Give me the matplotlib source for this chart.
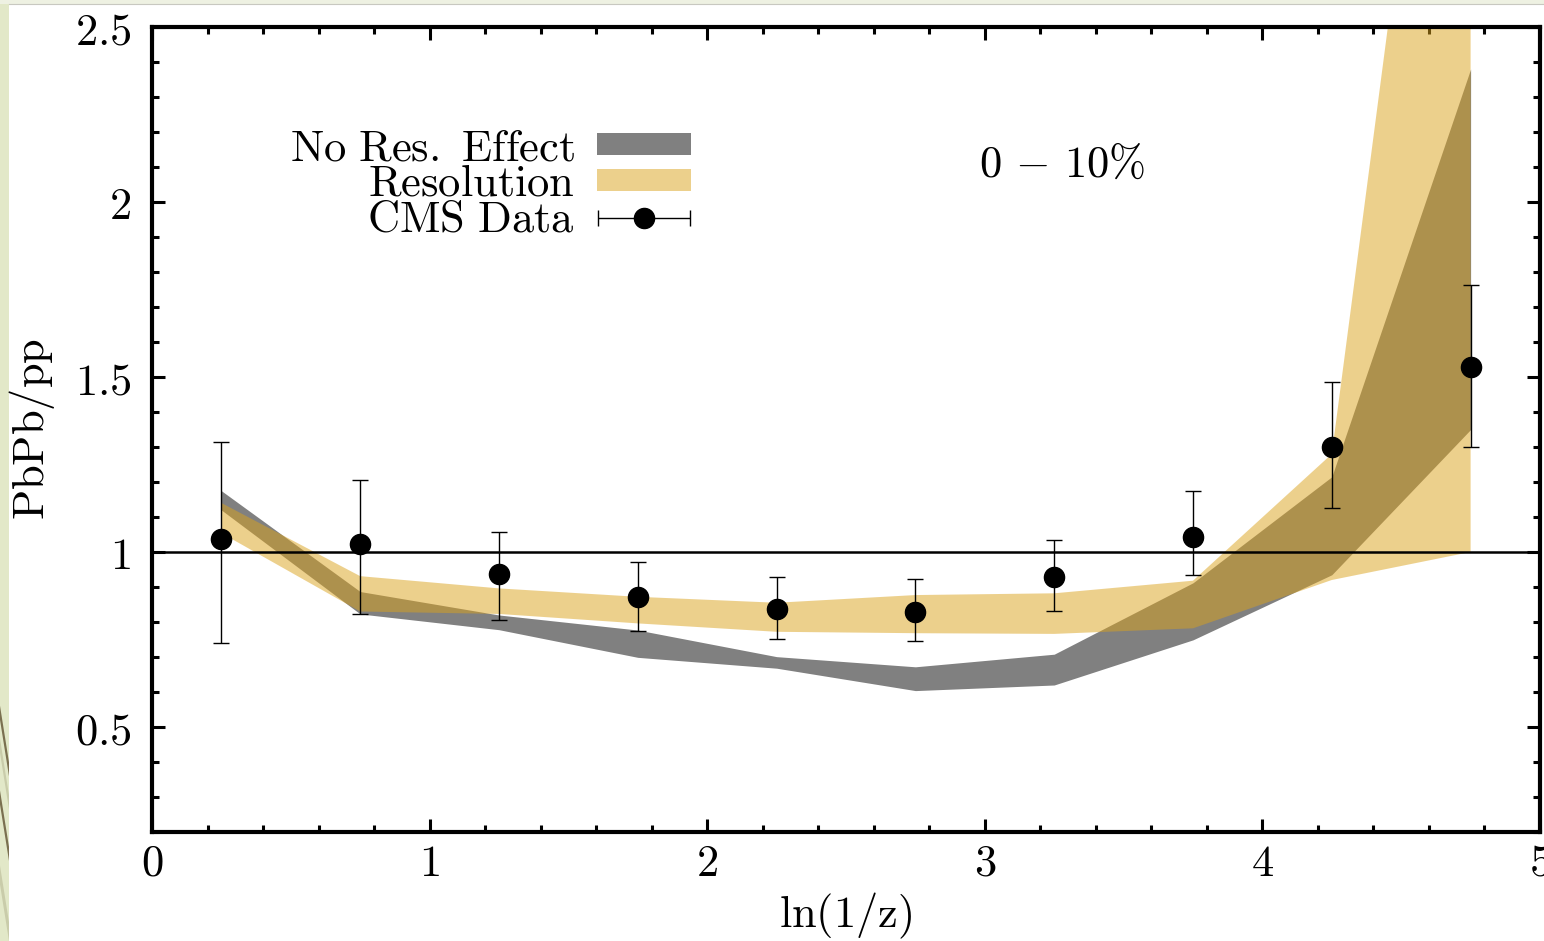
import numpy as np
import matplotlib
matplotlib.use("Agg")
from matplotlib import pyplot as plt
from matplotlib.patches import Patch, Rectangle, Polygon
from matplotlib.legend_handler import HandlerErrorbar
from matplotlib.ticker import MultipleLocator, FixedLocator, FixedFormatter

plt.rcParams['mathtext.fontset'] = 'cm'
plt.rcParams['font.family'] = ['DejaVu Serif']

# ln(1/z) bin centres
X_BINS = [0.25, 0.75, 1.25, 1.75, 2.25, 2.75, 3.25, 3.75, 4.25, 4.75]

# CMS PbPb/pp ratio, 0-10% centrality
CMS_Y = [1.037, 1.022, 0.937, 0.872, 0.836, 0.828, 0.930, 1.044, 1.301, 1.529]
CMS_ERR_LO = [0.297, 0.200, 0.131, 0.098, 0.085, 0.082, 0.099, 0.110, 0.174, 0.228]
CMS_ERR_HI = [0.277, 0.184, 0.121, 0.100, 0.094, 0.095, 0.104, 0.130, 0.185, 0.234]

# model band without resolution smearing
NORES_LO = [1.120, 0.823, 0.778, 0.699, 0.668, 0.604, 0.620, 0.749, 0.935, 1.350]
NORES_HI = [1.175, 0.887, 0.820, 0.777, 0.701, 0.672, 0.708, 0.912, 1.215, 2.380]

# model band with jet energy resolution
RES_LO = [1.054, 0.830, 0.823, 0.796, 0.772, 0.768, 0.766, 0.782, 0.920, 1.000]
RES_HI = [1.140, 0.931, 0.896, 0.872, 0.855, 0.877, 0.882, 0.918, 1.280, 4.300]

X_TICKS = [0, 1, 2, 3, 4, 5]
Y_TICKS = [0.5, 1.0, 1.5, 2.0, 2.5]
Y_TICK_LABELS = ['0.5', '1', '1.5', '2', '2.5']

GRAY = '#808080'
GOLD = '#dba21b'
FS = 32


def draw_slide_edge(fig):
    # pale strip of the slide template on the left and top
    fig.patches.append(Rectangle((0, 0), 9 / 1544, 1, transform=fig.transFigure,
                                 facecolor='#e2e8c8', edgecolor='none', zorder=-5))
    fig.patches.append(Rectangle((0, 1 - 4 / 941), 1, 4 / 941, transform=fig.transFigure,
                                 facecolor='#eef1e2', edgecolor='none', zorder=-5))
    fig.lines.append(plt.Line2D([9 / 1544, 1], [1 - 4 / 941, 1 - 4 / 941], transform=fig.transFigure,
                                color='#c8c8c0', lw=0.8))
    w = 9 / 1544
    strokes = [((0, 0.25), (0, 0.235), (w, 0.175), (w, 0.19), '#7a7050'),
               ((0, 0.16), (0, 0.145), (w, 0.085), (w, 0.10), '#7a7050'),
               ((0, 0.215), (0, 0.20), (w, 0.14), (w, 0.155), '#c9ccaa'),
               ((0, 0.08), (0, 0.06), (w, 0.0), (w, 0.02), '#c9ccaa')]
    for a, b, c, d, col in strokes:
        fig.patches.append(Polygon([a, b, c, d], closed=True, transform=fig.transFigure,
                                   facecolor=col, edgecolor='none', zorder=-4))


def main():
    fig = plt.figure(figsize=(15.44, 9.41), dpi=100)
    draw_slide_edge(fig)
    ax = fig.add_axes([152 / 1544, 1 - 832 / 941, 1388 / 1544, 805 / 941])

    ax.fill_between(X_BINS, NORES_LO, NORES_HI, color=GRAY, lw=0, zorder=1)
    ax.fill_between(X_BINS, RES_LO, RES_HI, color=GOLD, alpha=0.5, lw=0, zorder=2)

    ax.axhline(1.0, color='k', lw=1.8, zorder=3)

    ax.errorbar(X_BINS, CMS_Y, yerr=[CMS_ERR_LO, CMS_ERR_HI], fmt='o', color='k',
                ms=14.5, elinewidth=1.0, capsize=5.5, capthick=1.0, zorder=4)

    cms_proxy = ax.errorbar([np.nan], [np.nan], xerr=[0.0], fmt='o', color='k',
                            ms=14.5, elinewidth=1.0, capsize=5.5, capthick=1.0)

    handles = [Patch(facecolor=GRAY, edgecolor='none'),
               Patch(facecolor=GOLD, alpha=0.5, edgecolor='none'),
               cms_proxy]
    labels = [r'$\mathrm{No\ Res.\ Effect}$', r'$\mathrm{Resolution}$', r'$\mathrm{CMS\ Data}$']
    ax.legend(handles, labels, loc='upper right', bbox_to_anchor=(0.388, 0.877),
              frameon=False, markerfirst=False, fontsize=FS, handlelength=2.1,
              handleheight=0.38, handletextpad=0.5, labelspacing=-0.17, borderpad=0,
              borderaxespad=0,
              handler_map={cms_proxy: HandlerErrorbar(xerr_size=1.04)})

    ax.text(0.656, 0.83, r'$0\,-\,10\%$', transform=ax.transAxes, fontsize=FS,
            ha='center', va='center')

    ax.set_xlim(0, 5)
    ax.set_ylim(0.2, 2.5)

    ax.xaxis.set_major_locator(FixedLocator(X_TICKS))
    ax.xaxis.set_major_formatter(FixedFormatter([r'$%d$' % t for t in X_TICKS]))
    ax.xaxis.set_minor_locator(MultipleLocator(0.2))
    ax.yaxis.set_major_locator(FixedLocator(Y_TICKS))
    ax.yaxis.set_major_formatter(FixedFormatter([r'$%s$' % t for t in Y_TICK_LABELS]))
    ax.yaxis.set_minor_locator(MultipleLocator(0.1))

    ax.tick_params(which='both', direction='in', top=True, right=True, width=2.2,
                   labelsize=FS)
    ax.tick_params(which='major', length=9.5)
    ax.tick_params(which='minor', length=5)
    ax.tick_params(axis='x', which='major', pad=7)
    ax.tick_params(axis='y', which='major', pad=15)

    for side in ax.spines.values():
        side.set_linewidth(3.0)

    ax.set_xlabel(r'$\mathrm{ln(1/z)}$', fontsize=FS, labelpad=4)
    ax.set_ylabel(r'$\mathrm{PbPb/pp}$', fontsize=FS, labelpad=13)

    fig.savefig('out.png', dpi=100)


if __name__ == "__main__":
    main()
